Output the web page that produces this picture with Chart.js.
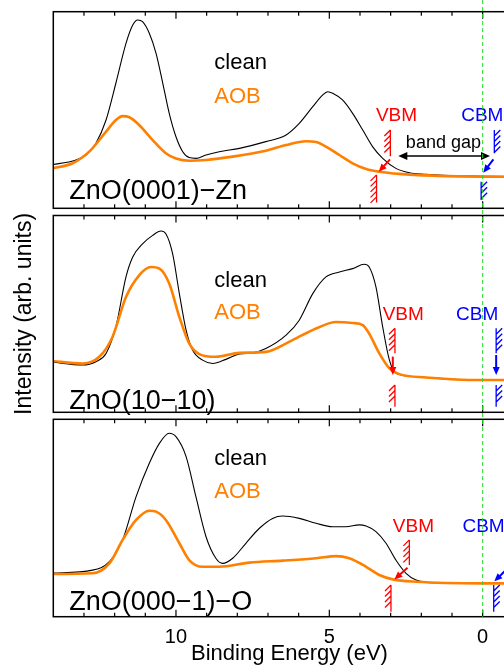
<!DOCTYPE html>
<html><head><meta charset="utf-8">
<script src="https://cdn.jsdelivr.net/npm/chart.js@4.4.1/dist/chart.umd.min.js"></script>
<style>
html,body{margin:0;padding:0;background:#fff;overflow:hidden;width:504px;height:665px;position:relative;}
canvas{position:absolute;left:0;top:0;}
</style></head><body>
<canvas id="c1" width="540" height="665"></canvas>
<canvas id="c2" width="540" height="665"></canvas>
<canvas id="c3" width="540" height="665"></canvas>
<script>
// ---- Data (binding energy in eV, intensity in arb. units 0-100 per panel) ----
const p1CleanE = [14.1,13.26,12.93,12.61,12.28,11.96,11.63,11.41,11.25,11.09,10.87,10.65,10.43,10.22,10.0,9.78,9.57,9.35,9.02,8.59,7.93,7.07,6.41,5.98,5.54,5.22,5.05,4.89,4.57,4.24,3.91,3.59,3.26,2.83,2.39,1.85,1.09,0,-1.4];
const p1CleanI = [22.0,24.6,27.1,33.1,44.9,63.6,83.9,93.2,95.8,94.9,89.0,78.8,63.6,48.3,36.4,28.8,25.8,25.4,27.1,28.8,30.5,33.9,37.3,43.2,51.7,57.6,59.3,58.5,55.1,48.3,39.8,31.4,25.4,20.3,18.1,17.3,16.6,16.3,16.0];
const p1AobE = [14.1,13.37,12.83,12.28,11.96,11.74,11.52,11.20,10.76,10.33,10.0,9.57,9.02,8.15,7.07,6.41,5.76,5.43,5.11,4.67,4.24,3.80,3.37,2.72,1.63,0,-1.4];
const p1AobI = [20.2,22.9,28.8,39.0,44.9,46.9,46.3,42.4,34.7,28.0,25.3,24.2,24.6,26.3,29.3,32.2,34.1,33.7,31.4,27.1,22.9,20.0,18.6,17.5,16.6,16.1,16.0];

const p2CleanE = [14.1,13.04,12.61,12.28,11.96,11.63,11.41,11.09,10.76,10.49,10.33,10.11,9.89,9.67,9.46,9.13,8.80,8.37,7.93,7.50,7.07,6.41,5.98,5.54,5.11,4.67,4.24,3.86,3.70,3.48,3.26,3.04,2.83,2.17,1.09,0,-1.4];
const p2CleanI = [25.7,24.0,25.7,29.9,43.4,68.8,78.9,85.6,89.9,92.1,90.7,80.6,60.3,41.7,31.6,26.5,24.8,26.9,29.6,30.2,32.4,39.2,46.8,60.3,68.8,71.3,73.0,75.2,73.8,63.7,43.4,26.5,19.8,18.1,16.9,16.4,16.4];
const p2AobE = [14.1,13.04,12.50,12.07,11.63,11.20,10.82,10.54,10.22,9.89,9.57,9.24,8.70,7.93,7.07,6.20,5.43,4.78,4.24,3.91,3.70,3.37,3.04,2.72,1.85,0,-1.4];
const p2AobI = [26.2,24.8,28.2,38.3,58.6,69.6,73.8,73.0,65.4,48.5,35.0,29.6,28.2,30.2,30.7,36.7,42.6,45.9,45.4,44.3,40.0,29.9,22.3,19.4,17.7,16.4,16.4];

const p3CleanE = [14.1,12.72,12.17,11.74,11.30,10.87,10.54,10.22,10.0,9.67,9.35,9.02,8.70,8.48,8.15,7.72,7.28,6.85,6.52,5.98,5.43,4.89,4.46,4.02,3.80,3.48,3.15,2.83,2.50,2.17,1.63,0,-1.4];
const p3CleanI = [22.0,23.6,27.9,38.9,60.8,77.7,87.8,92.9,91.2,81.1,60.8,40.5,29.6,27.0,29.6,37.2,44.8,49.8,51.0,49.8,47.3,45.6,45.6,46.5,45.9,43.1,37.2,28.7,22.0,18.6,17.2,16.9,16.9];
const p3AobE = [14.1,12.72,12.17,11.74,11.30,10.87,10.65,10.33,9.89,9.57,9.13,8.59,7.61,6.52,5.43,4.78,4.35,3.80,3.37,2.93,2.17,0,-1.4];
const p3AobI = [21.6,22.0,27.0,38.9,49.0,53.7,53.2,49.0,37.2,28.7,25.3,25.3,27.4,28.4,29.6,30.7,29.6,25.3,21.1,18.9,17.7,16.9,16.9];

// tick values
const majorTicks = [10,5,0];
const minorTicks = [-1,0,1,2,3,4,5,6,7,8,9,10,11,12,13];

// texts
const panelNames = ['ZnO(0001)\u2212Zn','ZnO(10\u221210)','ZnO(000\u22121)\u2212O'];
const seriesNames = ['clean','AOB'];

// ---- annotation placement (data coordinates) ----
const FONT = "'Liberation Sans', Arial, Helvetica, sans-serif";
const annot = [
 { nameAt:[13.48,8.3], cleanAt:[8.75,73.9], aobAt:[8.75,56.6], vbmAt:[3.48,46.9], cbmAt:[0.70,46.9],
   hatches:[[3.01,39.8,26.5,'#ff0000',-1],[3.46,17,3,'#ff0000',-1],[-0.38,39.8,28,'#0000ff',1],[0.05,13.5,4.2,'#0000ff',1]],
   arrows:[[3.02,24.9,3.39,18.6,'#ff0000'],[-0.35,24.9,-0.02,18.1,'#0000ff']],
   gap:{from:2.75,to:-0.24,at:26.6,textAt:[1.28,33.2]} },
 { nameAt:[13.48,5.4], cleanAt:[8.75,66.9], aobAt:[8.75,50.5], vbmAt:[3.26,49.4], cbmAt:[0.87,49.4],
   hatches:[[2.86,42.7,30.0,'#ff0000',-1],[2.86,13.9,2.8,'#ff0000',-1],[-0.44,42.7,30.0,'#0000ff',1],[-0.44,13.9,2.8,'#0000ff',1]],
   arrows:[[2.93,28.3,2.93,18.9,'#ff0000'],[-0.44,29.1,-0.44,18.9,'#0000ff']] },
 { nameAt:[13.48,7.1], cleanAt:[8.75,79.9], aobAt:[8.75,63.3], vbmAt:[2.93,45.6], cbmAt:[0.66,45.6],
   hatches:[[2.39,38.9,26.2,'#ff0000',-1],[2.99,16.1,2.5,'#ff0000',-1],[-0.36,16.1,2.5,'#0000ff',1],[-0.8,38.9,26.2,'#0000ff',1]],
   arrows:[[2.45,24.8,2.88,18.9,'#ff0000'],[-0.75,23.5,-0.38,17.9,'#0000ff']] }
];

function drawHatch(ctx,x,y1,y2,dir,color){
  ctx.strokeStyle=color; ctx.lineWidth=1.3;
  ctx.beginPath(); ctx.moveTo(x,y1); ctx.lineTo(x,y2);
  for(let yy=y1+6; yy<=y2+0.5; yy+=5.5){
    if(dir<0){ ctx.moveTo(x-6,yy); ctx.lineTo(x,yy-6); }
    else { ctx.moveTo(x,yy); ctx.lineTo(x+6,yy-6); }
  }
  ctx.stroke();
}
function arrowHead(ctx,x1,y1,x2,y2,len,w,color){
  const a=Math.atan2(y2-y1,x2-x1);
  ctx.fillStyle=color; ctx.beginPath();
  ctx.moveTo(x2,y2);
  ctx.lineTo(x2-len*Math.cos(a)+w/2*Math.sin(a), y2-len*Math.sin(a)-w/2*Math.cos(a));
  ctx.lineTo(x2-len*Math.cos(a)-w/2*Math.sin(a), y2-len*Math.sin(a)+w/2*Math.cos(a));
  ctx.closePath(); ctx.fill();
}
function drawArrow(ctx,x1,y1,x2,y2,color,lw){
  const a=Math.atan2(y2-y1,x2-x1);
  ctx.strokeStyle=color; ctx.lineWidth=lw;
  ctx.beginPath(); ctx.moveTo(x1,y1); ctx.lineTo(x2-6*Math.cos(a),y2-6*Math.sin(a)); ctx.stroke();
  arrowHead(ctx,x1,y1,x2,y2,8,7,color);
}

function panelPlugin(p, last){
  return { id:'panel'+p, afterDraw(chart){
    const {ctx, chartArea:a, scales:{x,y}} = chart;
    const X=v=>x.getPixelForValue(v), Y=v=>y.getPixelForValue(v);
    const A = annot[p];
    ctx.save();
    // frame
    ctx.strokeStyle='#000'; ctx.lineWidth=1.5;
    ctx.strokeRect(a.left,a.top,a.right-a.left,a.bottom-a.top);
    // inward ticks
    ctx.lineWidth=1.2;
    ctx.beginPath();
    minorTicks.forEach(v=>{
      const len = majorTicks.includes(v)?7:4; const px=X(v);
      ctx.moveTo(px,a.top); ctx.lineTo(px,a.top+len);
      ctx.moveTo(px,a.bottom); ctx.lineTo(px,a.bottom-len);
    });
    ctx.stroke();
    // texts
    ctx.textBaseline='middle'; ctx.textAlign='left';
    ctx.fillStyle='#000'; ctx.font='27px '+FONT;
    ctx.fillText(panelNames[p], X(A.nameAt[0]), Y(A.nameAt[1]));
    ctx.font='22px '+FONT;
    ctx.fillText(seriesNames[0], X(A.cleanAt[0]), Y(A.cleanAt[1]));
    ctx.fillStyle='#ff8000';
    ctx.fillText(seriesNames[1], X(A.aobAt[0]), Y(A.aobAt[1]));
    ctx.font='19px '+FONT;
    ctx.fillStyle='#ff0000'; ctx.fillText('VBM', X(A.vbmAt[0]), Y(A.vbmAt[1]));
    ctx.fillStyle='#0000ff'; ctx.fillText('CBM', X(A.cbmAt[0]), Y(A.cbmAt[1]));
    // hatches & arrows
    A.hatches.forEach(h=>drawHatch(ctx,X(h[0]),Y(h[1]),Y(h[2]),h[4],h[3]));
    A.arrows.forEach(r=>drawArrow(ctx,X(r[0]),Y(r[1]),X(r[2]),Y(r[3]),r[4],2));
    if(A.gap){
      const g=A.gap, x1=X(g.from), x2=X(g.to), yy=Y(g.at);
      ctx.strokeStyle='#000'; ctx.lineWidth=1.5;
      ctx.beginPath(); ctx.moveTo(x1+6,yy); ctx.lineTo(x2-6,yy); ctx.stroke();
      arrowHead(ctx,x2,yy,x1,yy,9,8,'#000');
      arrowHead(ctx,x1,yy,x2,yy,9,8,'#000');
      ctx.fillStyle='#000'; ctx.font='18px '+FONT; ctx.textAlign='center';
      ctx.fillText('band gap', X(g.textAt[0]), Y(g.textAt[1]));
    }
    if(last){
      ctx.strokeStyle='#22dd22'; ctx.lineWidth=1; ctx.setLineDash([4,3]);
      ctx.beginPath(); ctx.moveTo(X(0),0); ctx.lineTo(X(0),a.bottom); ctx.stroke();
    }
    ctx.restore();
  }};
}

function makeChart(id,p,cE,cI,aE,aI,padTop,padBottom,last){
  return new Chart(document.getElementById(id), {
    type:'line',
    data:{datasets:[
      {label:seriesNames[1], data:aE.map((e,i)=>({x:e,y:aI[i]})), borderColor:'#ff8000', borderWidth:2.6, pointRadius:0, cubicInterpolationMode:'monotone', fill:false},
      {label:seriesNames[0], data:cE.map((e,i)=>({x:e,y:cI[i]})), borderColor:'#000000', borderWidth:1.1, pointRadius:0, cubicInterpolationMode:'monotone', fill:false}
    ]},
    options:{
      responsive:false, animation:false, devicePixelRatio:1, events:[],
      layout:{padding:{top:padTop,bottom:padBottom,left:0,right:14.4}},
      plugins:{legend:{display:false}, tooltip:{enabled:false}},
      scales:{
        x:{type:'linear', reverse:true, min:-1.4, max:14, display:last,
           grid:{display:false, drawTicks:false}, border:{display:false},
           afterBuildTicks:s=>{ s.ticks = majorTicks.map(v=>({value:v})); },
           afterFit:s=>{ s.height = last ? 48.3 : 0; },
           ticks:{color:'#000', font:{family:FONT,size:20}, padding:9, maxRotation:0, autoSkip:false},
           title:{display:true, text:'Binding Energy (eV)', color:'#000', font:{family:FONT,size:22,lineHeight:1}, padding:{top:0,bottom:0}}},
        y:{min:0, max:100, display:true,
           grid:{display:false, drawTicks:false}, border:{display:false}, ticks:{display:false},
           afterFit:s=>{ s.width = 53.3; },
           title:{display:p===1, text:'Intensity (arb. units)', color:'#000', font:{family:FONT,size:23}, padding:{top:11,bottom:0}}}
      }
    },
    plugins:[panelPlugin(p,last)]
  });
}

makeChart('c1',0,p1CleanE,p1CleanI,p1AobE,p1AobI,11.7,665-208.3,false);
makeChart('c2',1,p2CleanE,p2CleanI,p2AobE,p2AobI,215.5,665-412.3,false);
makeChart('c3',2,p3CleanE,p3CleanI,p3AobE,p3AobI,419.3,0,true);
</script>
</body></html>
